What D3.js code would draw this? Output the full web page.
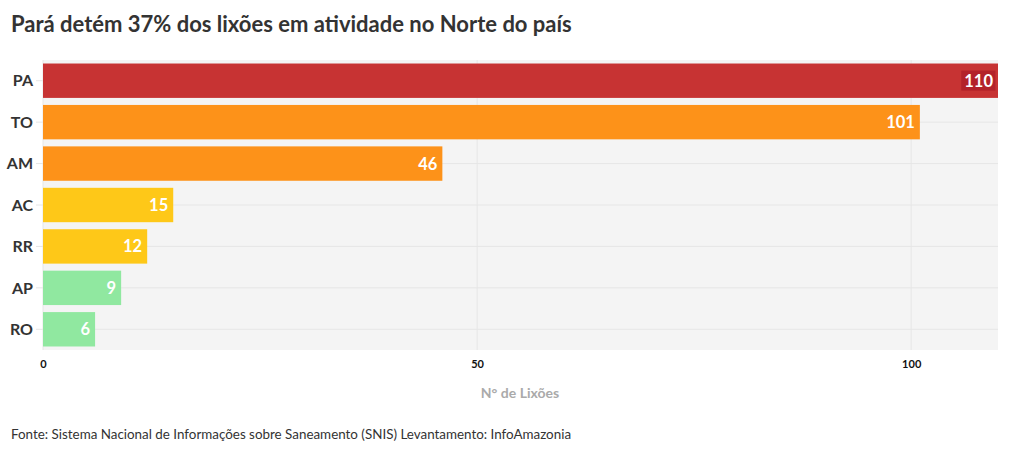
<!DOCTYPE html>
<html><head><meta charset="utf-8">
<script src="https://cdn.jsdelivr.net/npm/d3@7"></script>
<style>
body{margin:0;background:#fff;}
svg{display:block;font-family:Lato,"Noto Sans",sans-serif;}
</style></head><body>
<svg id="c" width="1020" height="453"></svg>
<script>
const categories = ["PA","TO","AM","AC","RR","AP","RO"];
const values = [110,101,46,15,12,9,6];
const barColors = ["#c73333","#fd9219","#fd9219","#fec818","#fec818","#90e8a0","#90e8a0"];
const xTicks = [0,50,100];
const title = "Pará detém 37% dos lixões em atividade no Norte do país";
const xTitle = "N° de Lixões";
const source = "Fonte: Sistema Nacional de Informações sobre Saneamento (SNIS) Levantamento: InfoAmazonia";

const svg = d3.select("#c");
const x = d3.scaleLinear().domain([0,110]).range([43,998]);
const y = d3.scaleBand().domain(categories).range([60,350]).paddingInner(0.17).paddingOuter(0.085);

svg.append("rect").attr("x",43).attr("y",60).attr("width",955).attr("height",290).attr("fill","#f4f4f4");

// grid
svg.append("g").selectAll("line").data(xTicks).join("line")
  .attr("x1",d=>x(d)).attr("x2",d=>x(d)).attr("y1",60).attr("y2",350)
  .attr("stroke","#e6e6e6").attr("stroke-width",1);
svg.append("g").selectAll("line").data(categories).join("line")
  .attr("x1",36).attr("x2",998).attr("y1",d=>y(d)+y.bandwidth()/2).attr("y2",d=>y(d)+y.bandwidth()/2)
  .attr("stroke","#e6e6e6").attr("stroke-width",1);

// bars
const data = categories.map((c,i)=>({c,v:values[i],col:barColors[i]}));
svg.append("g").selectAll("rect").data(data).join("rect")
  .attr("x",x(0)).attr("y",d=>y(d.c)).attr("width",d=>x(d.v)-x(0)).attr("height",y.bandwidth())
  .attr("fill",d=>d.col);

// value labels
const lg = svg.append("g");
data.forEach((d,i)=>{
  const t = lg.append("text").attr("x",x(d.v)-5).attr("y",y(d.c)+y.bandwidth()/2)
    .attr("dy","0.36em").attr("text-anchor","end").attr("fill","#fff")
    .attr("font-weight","bold").attr("font-size",16.5).text(d.v);
  if(i===0){
    const bb = t.node().getBBox();
    lg.insert("rect","text").attr("x",bb.x-3).attr("y",bb.y).attr("width",bb.width+5).attr("height",bb.height)
      .attr("fill","#b3222a");
  }
});

// y labels
svg.append("g").selectAll("text").data(categories).join("text")
  .attr("x",33).attr("y",d=>y(d)+y.bandwidth()/2).attr("dy","0.36em")
  .attr("text-anchor","end").attr("font-weight","bold").attr("font-size",16).attr("fill","#333").text(d=>d);

// x axis
const xa = svg.append("g").attr("transform","translate(0,350)")
  .call(d3.axisBottom(x).tickValues(xTicks).tickSize(0).tickPadding(10));
xa.select(".domain").remove();
xa.selectAll("text").attr("font-family","Lato,sans-serif").attr("font-weight","bold").attr("font-size",11).attr("fill","#111");

svg.append("text").attr("x",520).attr("y",398).attr("text-anchor","middle")
  .attr("font-weight","bold").attr("font-size",14).attr("fill","#aaa").text(xTitle);

svg.append("text").attr("x",11).attr("y",32).attr("font-weight","bold").attr("font-size",22).attr("fill","#333").text(title);
svg.append("text").attr("x",11).attr("y",439).attr("font-size",13.4).attr("fill","#333").text(source);
</script></body></html>
